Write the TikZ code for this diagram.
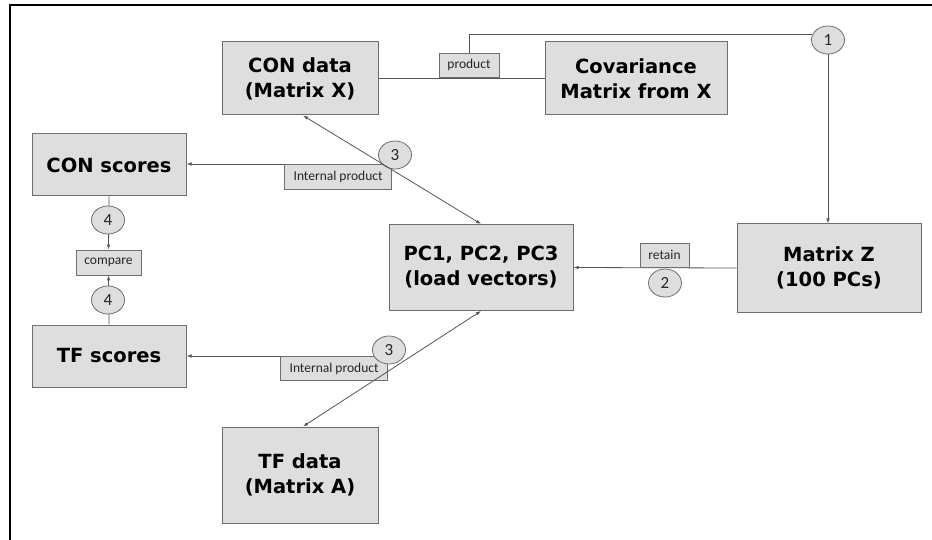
\documentclass[tikz,border=0pt]{standalone}
\usepackage{fontspec}
\setmainfont{DejaVu Sans}
\newfontfamily\lblfont{Carlito}
\usetikzlibrary{arrows.meta,shapes.geometric}
\definecolor{boxfill}{HTML}{DEDEDE}
\definecolor{boxline}{HTML}{6E6E6E}
\definecolor{conn}{HTML}{555555}
\begin{document}
\begin{tikzpicture}[x=1pt,y=-1pt,
  bigbox/.style={draw=boxline,fill=boxfill,line width=1pt,inner sep=0pt,align=center,
     font=\fontsize{19.5}{25}\selectfont\bfseries},
  tag/.style={draw=boxline,fill=boxfill,line width=0.8pt,inner sep=0pt,
     font=\lblfont\fontsize{13.5}{15}\selectfont,text=black!85},
  num/.style={ellipse,draw=boxline,fill=boxfill,line width=0.8pt,inner sep=0pt,
     minimum width=33pt,minimum height=28pt,font=\lblfont\fontsize{17}{17}\selectfont,text=black!85},
  conline/.style={draw=conn,line width=0.8pt},
  arr/.style={-{Latex[length=5pt,width=3.5pt]}},
  darr/.style={{Latex[length=5pt,width=3.5pt]}-{Latex[length=5pt,width=3.5pt]}}]
\useasboundingbox (0,0) rectangle (932,540);
\draw[black,line width=1.5pt] (10,540) -- (10,5) -- (932,5);
% boxes
\node[bigbox,minimum width=156pt,minimum height=73pt] (conData) at (300,78.5) {CON data\\(Matrix X)};
\node[bigbox,minimum width=182pt,minimum height=73pt] (cov) at (636,78.5) {Covariance\\Matrix from X};
\node[bigbox,minimum width=184pt,minimum height=88pt] (matZ) at (829,268) {Matrix Z\\(100 PCs)};
\node[bigbox,minimum width=184pt,minimum height=86pt] (pc) at (481,267.5) {PC1, PC2, PC3\\(load vectors)};
\node[bigbox,minimum width=154pt,minimum height=62pt] (conScores) at (109,165) {CON scores};
\node[bigbox,minimum width=154pt,minimum height=62pt] (tfScores) at (109,356) {TF scores};
\node[bigbox,minimum width=156pt,minimum height=96pt] (tfData) at (300,475) {TF data\\(Matrix A)};
% connectors under labels
\draw[conline] (conData.east) -- (cov.west);
\node[tag,minimum width=60pt,minimum height=24pt] (product) at (469,65) {product};
\node[num] (c1) at (828,40) {1};
\draw[conline] (product.north) |- (c1.162);
\draw[conline,arr] (c1.south) -- (c1.south |- matZ.north);
\draw[conline,arr] (matZ.west) -- (pc.east);
\node[tag,minimum width=49pt,minimum height=24pt] (retain) at (664.5,255) {retain};
\node[num] (c2) at (665,283) {2};
\coordinate (ip1) at (384,164);
\coordinate (ip2) at (388,356);
\draw[conline,arr] (ip1) -- (ip1 -| conScores.east);
\draw[conline,arr] (ip2) -- (ip2 -| tfScores.east);
\node[tag,minimum width=107pt,minimum height=25pt,anchor=north east] (ip1box) at (392,164) {Internal product};
\node[tag,minimum width=107pt,minimum height=24pt,anchor=north east] (ip2box) at (388,356) {Internal product};
\node[tag,minimum width=65pt,minimum height=25pt] (compare) at (108.5,262.5) {compare};
\draw[conline,arr] (conScores.south) -- (compare.north);
\draw[conline,arr] (tfScores.north) -- (compare.south);
\node[num] (c4a) at (108,220) {4};
\node[num] (c4b) at (108,300) {4};
\node[num] (c3a) at (395,155) {3};
\node[num] (c3b) at (389,350) {3};
% diagonal connectors on top
\draw[conline,darr] ([xshift=3pt]conData.south) -- (pc.north);
\draw[conline,darr] (pc.south) -- ([xshift=3pt]tfData.north);
\end{tikzpicture}
\end{document}
